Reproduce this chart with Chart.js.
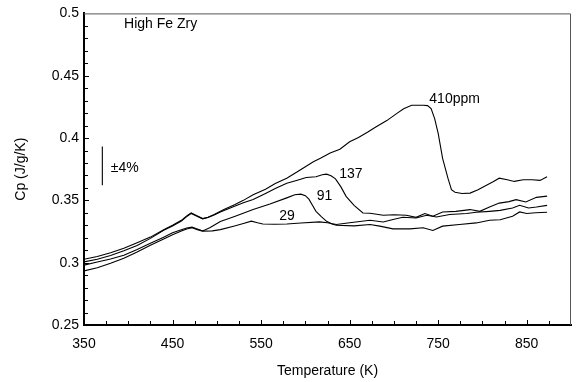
<!DOCTYPE html>
<html>
<head>
<meta charset="utf-8">
<title>Cp - High Fe Zry</title>
<script src="https://cdn.jsdelivr.net/npm/chart.js@4.4.0/dist/chart.umd.min.js"></script>
<style>
	html, body { margin: 0; padding: 0; background: #fff; }
	#wrap { width: 577px; height: 382px; }
</style>
</head>
<body>
<div id="wrap"><canvas id="cpchart" width="577" height="382"></canvas></div>
<script type="text/javascript">
	// temperature (K) / Cp (J/g/K), one pair per hydrogen content
	var t410 = [350,365,380,395,410,425,440,450,460,466,471,477,484,490,497,508,520,530,541,555,566,579,590,600,609,617,628,639,650,660,671,680,692,703,711,720,733,738,742,746,750,755,761,765,769,777,786,795,804,812,819,828,836,846,856,865,873];
	var cp410 = [.3027,.305,.308,.3115,.316,.3205,.3265,.330,.334,.3375,.340,.3378,.3354,.3365,.3386,.3426,.3465,.350,.3545,.359,.3635,.3678,.3725,.377,.381,.3837,.388,.391,.397,.4005,.405,.409,.414,.4196,.4235,.4263,.4263,.426,.4236,.4156,.4037,.3837,.3678,.3585,.3565,.3555,.3558,.3585,.362,.365,.3678,.3665,.3652,.3665,.3665,.366,.369];

	var t137 = [350,365,380,395,410,425,440,450,460,466,471,477,484,490,497,504,520,530,541,555,566,579,590,601,612,619,624,629,634,640,646,655,665,673,688,700,714,725,735,744,755,770,786,797,808,819,830,838,849,861,873];
	var cp137 = [.3006,.3028,.3058,.3095,.3138,.3195,.326,.3295,.3335,.337,.3395,.3375,.3352,.3362,.3382,.3407,.3452,.348,.3506,.3555,.3595,.3638,.366,.3683,.369,.3705,.371,.3698,.3672,.361,.3532,.346,.3399,.3396,.338,.3385,.338,.3364,.3394,.3373,.3407,.3412,.3426,.3412,.3447,.3478,.349,.3506,.3487,.3524,.3534];

	var t91 = [350,365,380,395,410,425,440,450,460,466,472,478,484,492,504,520,541,560,579,588,595,600,604,608,612,618,624,630,635,655,673,684,699,718,733,744,755,774,793,808,820,834,842,850,860,873];
	var cp91 = [.298,.3005,.303,.306,.3105,.3155,.3205,.324,.3265,.3278,.3285,.327,.3255,.328,.333,.337,.3426,.347,.352,.3545,.355,.3538,.351,.346,.3412,.337,.3332,.331,.330,.3295,.3306,.3293,.3271,.3271,.328,.3258,.3293,.3306,.3319,.334,.3345,.3372,.3407,.3395,.340,.3405];

	var t29 = [350,365,380,395,410,425,440,450,460,466,472,478,484,495,504,520,530,539,546,552,565,579,595,616,625,635,650,673,688,699,710,725,737,748,763,782,793,808,820,834,842,852,861,873];
	var cp29 = [.2934,.296,.2995,.3035,.3085,.314,.319,.3225,.3255,.327,.328,.3265,.3253,.3255,.3265,.3295,.3315,.3333,.332,.331,.3308,.331,.3318,.3327,.332,.3306,.332,.334,.3327,.3346,.3364,.3359,.338,.3367,.3386,.3394,.3404,.3412,.342,.3439,.346,.3439,.3447,.346];

	// +-4% error bar
	var barT = [370.7, 370.7];
	var barCp = [0.3622, 0.3932];

	var xTicks = [350, 450, 550, 650, 750, 850];
	var yTicks = [0.25, 0.3, 0.35, 0.4, 0.45, 0.5];

	// text annotations (left edge / baseline in data units)
	var noteText = ['410ppm', '137', '91', '29', 'High Fe Zry', '\u00b14%'];
	var noteT = [740, 638.3, 612.8, 570.6, 395.2, 380.2];
	var noteCp = [0.4279, 0.368, 0.3503, 0.3344, 0.4881, 0.3728];

	var FONT = '"Liberation Sans", Arial, Helvetica, sans-serif';

	function pts(xs, ys) {
		return xs.map(function(x, i) { return {x: x, y: ys[i]}; });
	}
	function curve(label, xs, ys) {
		return {label: label, data: pts(xs, ys), borderColor: '#000', borderWidth: 1.1,
			pointRadius: 0, fill: false, tension: 0};
	}

	var extras = {
		id: 'extras',
		afterDraw: function(chart) {
			var ctx = chart.ctx, xs = chart.scales.x, ys = chart.scales.y, a = chart.chartArea;
			ctx.save();
			// top and right frame
			ctx.strokeStyle = '#555';
			ctx.lineWidth = 1;
			ctx.beginPath();
			ctx.moveTo(a.left, a.top + 0.5);
			ctx.lineTo(a.right - 0.5, a.top + 0.5);
			ctx.lineTo(a.right - 0.5, a.bottom);
			ctx.stroke();
			// inward ticks, minor every 25 K / 0.01
			ctx.strokeStyle = '#000';
			ctx.beginPath();
			for (var t = 375; t < 900; t += 25) {
				var px = Math.round(xs.getPixelForValue(t)) + 0.5;
				var len = (t - 350) % 100 === 0 ? 5 : 4;
				ctx.moveTo(px, a.bottom);
				ctx.lineTo(px, a.bottom - len);
			}
			for (var i = 1; i < 25; i++) {
				var py = Math.round(ys.getPixelForValue(0.25 + i * 0.01)) + 0.5;
				var l2 = i % 5 === 0 ? 5 : 4;
				ctx.moveTo(a.left, py);
				ctx.lineTo(a.left + l2, py);
			}
			ctx.stroke();
			// annotations
			ctx.fillStyle = '#000';
			ctx.font = '14px ' + FONT;
			ctx.textAlign = 'left';
			ctx.textBaseline = 'alphabetic';
			noteText.forEach(function(s, k) {
				ctx.fillText(s, xs.getPixelForValue(noteT[k]), ys.getPixelForValue(noteCp[k]));
			});
			ctx.restore();
		}
	};

	var myChart = new Chart(document.getElementById('cpchart'), {
		type: 'line',
		data: {
			datasets: [
				curve('410ppm', t410, cp410),
				curve('137', t137, cp137),
				curve('91', t91, cp91),
				curve('29', t29, cp29),
				curve('bar', barT, barCp)
			]
		},
		options: {
			responsive: false,
			animation: false,
			devicePixelRatio: 1,
			layout: { padding: { left: 0, right: 6, top: 10, bottom: 0 } },
			plugins: {
				legend: { display: false },
				tooltip: { enabled: false }
			},
			scales: {
				x: {
					type: 'linear',
					min: 350,
					max: 900,
					afterBuildTicks: function(s) { s.ticks = xTicks.map(function(v) { return {value: v}; }); },
					afterFit: function(s) { s.height = 57; },
					grid: { display: false, drawTicks: false },
					border: { display: true, color: '#000', width: 2 },
					ticks: { color: '#000', font: { size: 14, family: FONT }, padding: 11, maxRotation: 0, autoSkip: false },
					title: { display: true, text: 'Temperature (K)', color: '#000', font: { size: 14, family: FONT }, padding: { top: 0, bottom: 2 } }
				},
				y: {
					min: 0.25,
					max: 0.5,
					afterBuildTicks: function(s) { s.ticks = yTicks.map(function(v) { return {value: v}; }); },
					afterFit: function(s) { s.width = 84; },
					grid: { display: false, drawTicks: false },
					border: { display: true, color: '#000', width: 2 },
					ticks: {
						color: '#000', font: { size: 14, family: FONT }, padding: 5, autoSkip: false,
						callback: function(v) { return String(Math.round(v * 100) / 100); }
					},
					title: { display: true, text: 'Cp (J/g/K)', color: '#000', font: { size: 14, family: FONT }, padding: { top: 13, bottom: 0 } }
				}
			}
		},
		plugins: [extras]
	});
</script>
</body>
</html>
